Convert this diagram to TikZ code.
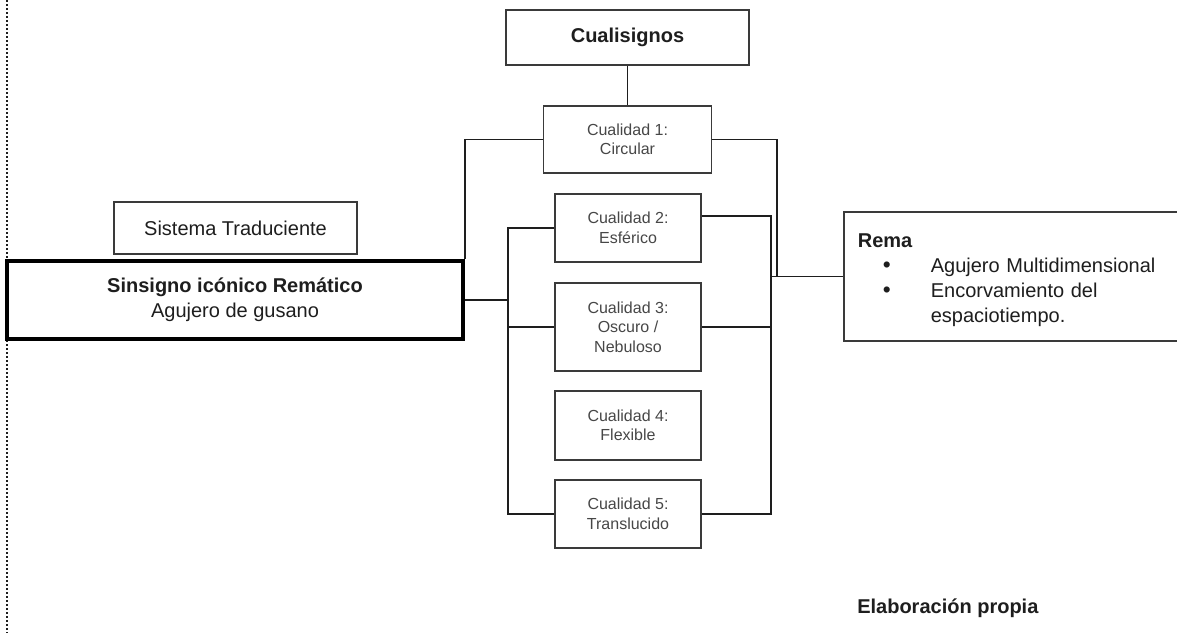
\documentclass[tikz,border=0pt]{standalone}
\usepackage{fontspec}
\setmainfont{Liberation Sans}
\usetikzlibrary{calc}
\definecolor{ink}{HTML}{1E1E1E}
\definecolor{edge}{HTML}{3A3A3A}
\definecolor{soft}{HTML}{474747}
\begin{document}
\begin{tikzpicture}[x=0.75pt,y=-0.75pt,
  box/.style={draw=edge, line width=1.2pt, inner sep=0pt, align=center, text=ink},
  big/.style={font=\fontsize{15}{18.75}\selectfont},
  qbox/.style={box, minimum width=109.5pt, minimum height=51pt, text=soft,
    font=\fontsize{12}{14.6}\selectfont},
  wire/.style={draw=ink, line width=1.3pt}]
% page frame
\clip (0,0) rectangle (1177,633);
\fill[white] (0,0) rectangle (1177,633);
% dotted margin rule
\draw[ink, line width=1.6pt, dash pattern=on 1.5pt off 1.5pt] (7,0) -- (7,633);

% boxes
\node[box, big, minimum width=182.25pt, minimum height=41.25pt] (cual) at (627.5,37.5) {\textbf{Cualisignos}};
\node[qbox, minimum width=126pt, minimum height=50.25pt] (c1) at (627.5,139.5) {Cualidad 1:\\Circular};
\node[qbox] (c2) at (628,228) {Cualidad 2:\\Esférico};
\node[qbox, minimum height=66pt] (c3) at (628,327) {Cualidad 3:\\Oscuro /\\Nebuloso};
\node[qbox, minimum height=51.75pt] (c4) at (628,425.5) {Cualidad 4:\\Flexible};
\node[qbox] (c5) at (628,514) {Cualidad 5:\\Translucido};
\node[box, big, minimum width=182.25pt, minimum height=39pt] (sis) at (235.5,228) {Sistema Traduciente};
\node[box, big, draw=black, line width=2.6pt, minimum width=342pt, minimum height=58.5pt] (sin) at (235,300)
  {\textbf{Sinsigno icónico Remático}\\Agujero de gusano};
\node[box, big, anchor=west, align=left, text width=235.5pt, inner xsep=10.5pt, minimum height=96.75pt] (rema) at (843,276.5)
  {\textbf{Rema}\rule{0pt}{15.5pt}\\
   \hspace*{18.75pt}\makebox[36pt][l]{\fontsize{17}{18.75}\selectfont •}Agujero Multidimensional\\
   \hspace*{18.75pt}\makebox[36pt][l]{\fontsize{17}{18.75}\selectfont •}Encorvamiento del\\
   \hspace*{54.75pt}espaciotiempo.};
\node[big, text=ink, anchor=west, inner sep=0pt] (note) at (857,608) {\textbf{Elaboración propia}};

% connector rails
\coordinate (lbx) at (508,0);
\coordinate (rbx) at (771,0);
\coordinate (rj) at (777,276.5);

% connectors
\draw[wire] (cual.south) -- (c1.north);
\draw[wire] (c1.west) -| (sin.north east);
\draw[wire] (sin.east) -- (sin.east -| lbx);
\draw[wire] (c2.west) -- (c2.west -| lbx) |- (c5.west);
\draw[wire] (c3.west) -- (c3.west -| lbx);
\draw[wire] ([yshift=9pt]c2.east) -| (c5.east -| rbx) -- (c5.east);
\draw[wire] (c3.east) -- (c3.east -| rbx);
\draw[wire] (rema.west) -- (rema.west -| rbx);
\draw[wire] (c1.east) -| (rj);
\end{tikzpicture}
\end{document}
